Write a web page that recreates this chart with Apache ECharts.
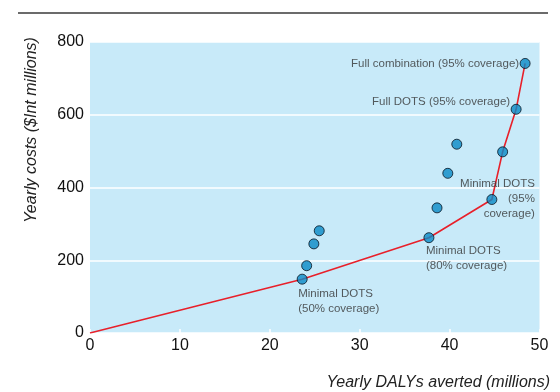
<!DOCTYPE html>
<html>
<head>
<meta charset="utf-8">
<script src="https://cdn.jsdelivr.net/npm/echarts@6/dist/echarts.min.js"></script>
<style>html,body{margin:0;padding:0;background:#fff}#c{width:560px;height:392px}</style>
</head>
<body>
<div id="c"></div>
<script>
// Data
const pointNames = ['Minimal DOTS (50% coverage)', 'p2', 'p3', 'p4', 'Minimal DOTS (80% coverage)', 'p6', 'p7', 'p8', 'Minimal DOTS (95% coverage)', 'p10', 'Full DOTS (95% coverage)', 'Full combination (95% coverage)'];
const dalys = [23.6, 24.1, 24.9, 25.5, 37.7, 38.6, 39.8, 40.8, 44.7, 45.9, 47.4, 48.4];
const costs = [148, 185, 245, 281, 262, 344, 439, 519, 367, 498, 615, 741];
const frontierX = [0, 23.6, 37.7, 44.7, 45.9, 47.4, 48.4];
const frontierY = [0, 148, 262, 367, 498, 615, 741];
const xTicks = [0, 10, 20, 30, 40, 50];
const yTicks = [0, 200, 400, 600, 800];

const FONT = '"Liberation Sans Narrow", "Liberation Sans", Arial, sans-serif';
const labelBase = {show: true, fontFamily: FONT, fontSize: 11.5, color: '#333', lineHeight: 15};
const labelMap = {
  'Minimal DOTS (50% coverage)': Object.assign({}, labelBase, {formatter: 'Minimal DOTS\n(50% coverage)', position: 'inside', align: 'left', verticalAlign: 'top', offset: [-4, 7]}),
  'Minimal DOTS (80% coverage)': Object.assign({}, labelBase, {formatter: 'Minimal DOTS\n(80% coverage)', position: 'inside', align: 'left', verticalAlign: 'top', offset: [-3, 6]}),
  'Minimal DOTS (95% coverage)': Object.assign({}, labelBase, {formatter: 'Minimal DOTS\n(95%\ncoverage)', position: 'inside', align: 'right', verticalAlign: 'middle', offset: [43, -1]}),
  'Full DOTS (95% coverage)': Object.assign({}, labelBase, {formatter: 'Full DOTS (95% coverage)', position: 'inside', align: 'right', verticalAlign: 'middle', offset: [-6, -7]}),
  'Full combination (95% coverage)': Object.assign({}, labelBase, {formatter: 'Full combination (95% coverage)', position: 'inside', align: 'right', verticalAlign: 'middle', offset: [-6, 0]})
};

const scatterData = dalys.map((x, i) => {
  const item = {name: pointNames[i], value: [x, costs[i]]};
  item.label = labelMap[pointNames[i]] || {show: false};
  return item;
});
const lineData = frontierX.map((x, i) => [x, frontierY[i]]);

const chart = echarts.init(document.getElementById('c'), null, {renderer: 'canvas'});
chart.setOption({
  animation: false,
  grid: {left: 90, right: 20.5, top: 42, bottom: 59, show: true, backgroundColor: '#c8eaf9', borderWidth: 0},
  xAxis: {
    type: 'value', min: 0, max: 50, interval: 10,
    axisLine: {show: false},
    axisTick: {show: true, inside: true, length: 4, lineStyle: {color: '#fff', width: 1.5}},
    splitLine: {show: false},
    axisLabel: {fontFamily: FONT, fontSize: 16, color: '#111', margin: 5,
      formatter: v => xTicks.indexOf(v) >= 0 ? String(v) : ''}
  },
  yAxis: {
    type: 'value', min: 0, max: 800, interval: 200,
    axisLine: {show: false},
    axisTick: {show: false},
    splitLine: {show: true, lineStyle: {color: '#fff', width: 1.5}},
    axisLabel: {fontFamily: FONT, fontSize: 16, color: '#111', margin: 6,
      formatter: v => yTicks.indexOf(v) >= 0 ? String(v) : ''}
  },
  series: [
    {type: 'line', data: lineData, symbol: 'none', lineStyle: {color: '#e8202a', width: 1.6}, z: 2, silent: true},
    {type: 'scatter', data: scatterData, symbolSize: 10,
      itemStyle: {color: '#0a8ac6', borderColor: '#07131f', borderWidth: 1}, z: 3}
  ],
  graphic: [
    {type: 'line', shape: {x1: 18, y1: 13, x2: 548, y2: 13}, style: {stroke: '#3a3a3a', lineWidth: 1.5}},
    {type: 'text', x: 32, y: 130, rotation: Math.PI / 2,
      style: {text: 'Yearly costs ($Int millions)', fontFamily: FONT, fontStyle: 'italic', fontSize: 16, fill: '#222', align: 'center', verticalAlign: 'middle'}},
    {type: 'text', x: 550, y: 383,
      style: {text: 'Yearly DALYs averted (millions)', fontFamily: FONT, fontStyle: 'italic', fontSize: 16, fill: '#222', align: 'right', verticalAlign: 'middle'}}
  ]
});
</script>
</body>
</html>
